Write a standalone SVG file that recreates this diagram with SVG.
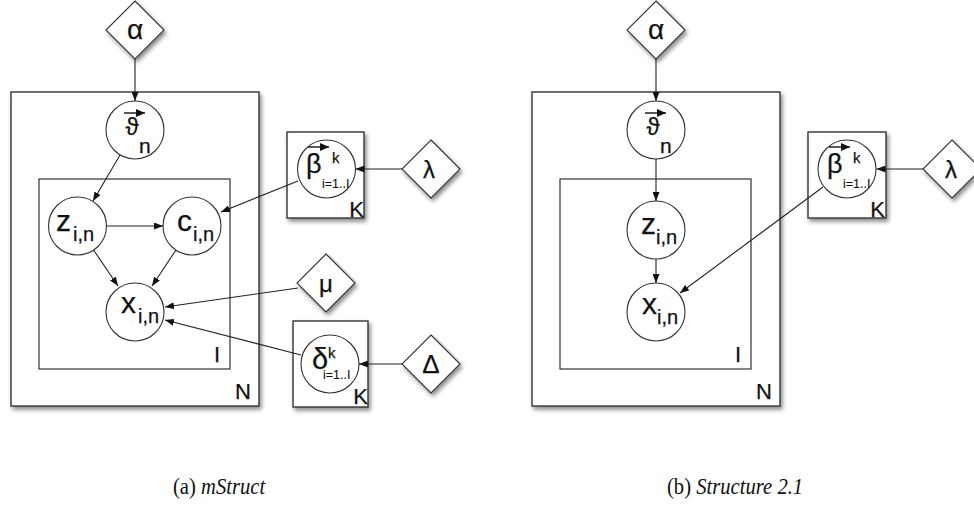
<svg xmlns="http://www.w3.org/2000/svg" width="974" height="505" viewBox="0 0 974 505">
<style>
.plate{fill:#fff;stroke:#333;stroke-width:1.4;filter:url(#sh)}
.inner{fill:none;stroke:#333;stroke-width:1.2}
.node{fill:#fff;stroke:#333;stroke-width:1.1}
.dia{fill:#fff;stroke:#333;stroke-width:1.1;filter:url(#sh)}
.edge{fill:none;stroke:#222;stroke-width:1.1;marker-end:url(#ah)}
.vec{fill:none;stroke:#111;stroke-width:1.4;marker-end:url(#va)}
text{font-family:"Liberation Sans",Arial,"DejaVu Sans",sans-serif;fill:#111;stroke:#111;stroke-width:0.25}
.big{font-size:30px}
.sub{font-size:20px}
.gr{font-size:27px}
.sm{font-size:15px}
.xs{font-size:12.5px;stroke-width:0.1}
.pl{font-size:22px;text-anchor:end}
.mid{text-anchor:middle}
.cap{font-family:"Liberation Serif","Times New Roman",serif;font-size:24px;stroke:none}
</style>
<defs>
<filter id="sh" x="-20%" y="-20%" width="150%" height="150%">
<feDropShadow dx="2" dy="3" stdDeviation="2" flood-color="#000" flood-opacity="0.45"/>
</filter>
<marker id="ah" markerUnits="userSpaceOnUse" markerWidth="9" markerHeight="7" refX="9" refY="3.5" orient="auto">
<path d="M0,0 L9,3.5 L0,7 z" fill="#111"/>
</marker>
<marker id="va" markerUnits="userSpaceOnUse" markerWidth="9" markerHeight="8" refX="9" refY="4" orient="auto">
<path d="M0,0 L9,4 L0,8 z" fill="#111"/>
</marker>
</defs>
<rect width="974" height="505" fill="#fff"/>

<!-- ===== (a) mStruct ===== -->
<g id="plateN_a"><rect class="plate" x="11" y="92" width="248" height="314"/><text class="pl" x="251" y="399">N</text></g>
<g id="plateI_a"><rect class="inner" x="39" y="179" width="191" height="190"/><text class="pl" x="220" y="362">I</text></g>
<g id="plateKb_a"><rect class="plate" x="287" y="132" width="77" height="86"/><text class="pl" x="364" y="217">K</text></g>
<g id="plateKd_a"><rect class="plate" x="293" y="321" width="75" height="86"/><text class="pl" x="368" y="404">K</text></g>

<g id="alpha_a"><polygon class="dia" points="135,1 164,30 135,59 106,30"/><text class="mid" x="135" y="39" style="font-size:28px">α</text></g>
<g id="theta_a"><circle class="node" cx="135" cy="130" r="29"/>
<text class="mid" x="132" y="135" style="font-size:24px">ϑ</text><text x="139" y="153" style="font-size:21px">n</text>
<path class="vec" d="M124,113 H145"/></g>
<g id="z_a"><circle class="node" cx="77.5" cy="226" r="29"/><text class="big" x="56" y="231">z</text><text class="sub" x="73" y="241">i,n</text></g>
<g id="c_a"><circle class="node" cx="192" cy="226" r="29"/><text class="big" x="177" y="231">c</text><text class="sub" x="193" y="241">i,n</text></g>
<g id="x_a"><circle class="node" cx="135" cy="312" r="29"/><text class="big" x="121" y="313">x</text><text class="sub" x="138" y="323">i,n</text></g>
<g id="beta_a"><circle class="node" cx="326.5" cy="169" r="29"/>
<text class="gr" x="306" y="173">β</text><text class="sm" x="332" y="163">k</text><text class="xs" x="322" y="188">i=1..I</text>
<path class="vec" d="M308,147 H329"/></g>
<g id="lambda_a"><polygon class="dia" points="431,140 460,169 431,198 402,169"/><text class="mid" x="429" y="178" style="font-size:24px">λ</text></g>
<g id="mu_a"><polygon class="dia" points="326,254 355,283 326,312 297,283"/><text class="mid" x="326" y="292" style="font-size:24px">μ</text></g>
<g id="delta_a"><circle class="node" cx="330" cy="364" r="29"/>
<text style="font-size:29px" x="312" y="369">δ</text><text class="sm" x="328" y="358">k</text><text class="xs" x="323" y="379">i=1..I</text></g>
<g id="Delta_a"><polygon class="dia" points="431,335 460,364 431,393 402,364"/><text class="mid" x="431" y="373" style="font-size:26px">Δ</text></g>

<g id="edges_a">
<path class="edge" d="M135,59 L135,101"/>
<path class="edge" d="M120,155 L93,201"/>
<path class="edge" d="M106.5,226 L163,226"/>
<path class="edge" d="M93.6,250 L118,286"/>
<path class="edge" d="M176,250 L152,286"/>
<path class="edge" d="M298,181 L221,212"/>
<path class="edge" d="M402,169 L355.5,169"/>
<path class="edge" d="M298,288 L165,307"/>
<path class="edge" d="M301,355 L165,320"/>
<path class="edge" d="M402,364 L359,364"/>
</g>

<!-- ===== (b) Structure 2.1 ===== -->
<g id="plateN_b"><rect class="plate" x="532" y="92" width="248" height="314"/><text class="pl" x="772" y="399">N</text></g>
<g id="plateI_b"><rect class="inner" x="560" y="179" width="191" height="190"/><text class="pl" x="741" y="362">I</text></g>
<g id="plateKb_b"><rect class="plate" x="808" y="132" width="78" height="86"/><text class="pl" x="885" y="217">K</text></g>

<g id="alpha_b"><polygon class="dia" points="656,1 685,30 656,59 627,30"/><text class="mid" x="656" y="39" style="font-size:28px">α</text></g>
<g id="theta_b"><circle class="node" cx="656" cy="130" r="29"/>
<text class="mid" x="653" y="135" style="font-size:24px">ϑ</text><text x="660" y="153" style="font-size:21px">n</text>
<path class="vec" d="M645,113 H666"/></g>
<g id="z_b"><circle class="node" cx="656" cy="230" r="29"/><text class="big" x="641" y="234">z</text><text class="sub" x="656" y="244">i,n</text></g>
<g id="x_b"><circle class="node" cx="656" cy="312" r="29"/><text class="big" x="642" y="314">x</text><text class="sub" x="657" y="324">i,n</text></g>
<g id="beta_b"><circle class="node" cx="847" cy="169" r="29"/>
<text class="gr" x="827" y="173">β</text><text class="sm" x="853" y="163">k</text><text class="xs" x="843" y="188">i=1..I</text>
<path class="vec" d="M829,147 H850"/></g>
<g id="lambda_b"><polygon class="dia" points="952,140 981,169 952,198 923,169"/><text class="mid" x="951" y="178" style="font-size:24px">λ</text></g>

<g id="edges_b">
<path class="edge" d="M656,59 L656,101"/>
<path class="edge" d="M656,159 L656,201"/>
<path class="edge" d="M656,259 L656,283"/>
<path class="edge" d="M923,169 L876.5,169"/>
<path class="edge" d="M823,187 L680,293"/>
</g>

<text class="cap" transform="translate(173,494) scale(0.86,1)">(a) <tspan font-style="italic">mStruct</tspan></text>
<text class="cap" transform="translate(667,494) scale(0.86,1)">(b) <tspan font-style="italic">Structure 2.1</tspan></text>
</svg>
